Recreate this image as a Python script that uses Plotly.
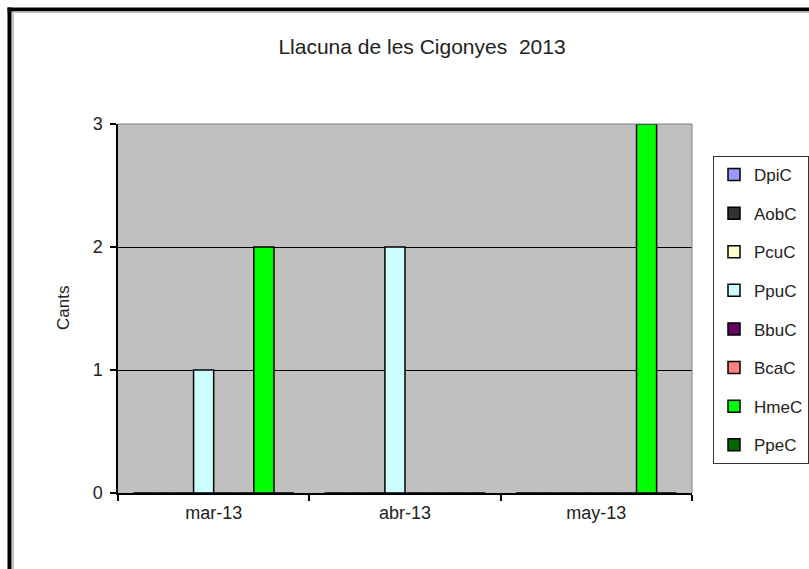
import plotly.graph_objects as go

categories = ["mar-13", "abr-13", "may-13"]
series_names = ["DpiC", "AobC", "PcuC", "PpuC", "BbuC", "BcaC", "HmeC", "PpeC"]
series_values = {
    "DpiC": [0, 0, 0],
    "AobC": [0, 0, 0],
    "PcuC": [0, 0, 0],
    "PpuC": [1, 2, 0],
    "BbuC": [0, 0, 0],
    "BcaC": [0, 0, 0],
    "HmeC": [2, 0, 3],
    "PpeC": [0, 0, 0],
}
series_colors = {
    "DpiC": "#9999FF",
    "AobC": "#333333",
    "PcuC": "#FFFFCC",
    "PpuC": "#CCFFFF",
    "BbuC": "#660066",
    "BcaC": "#FF8080",
    "HmeC": "#00FF00",
    "PpeC": "#006600",
}
y_ticks = [0, 1, 2, 3]
title_text = "Llacuna de les Cigonyes  2013"
y_title = "Cants"

W, H = 809, 569
L, R, T, B = 118, 692, 124, 493


def px(x):
    return (x - L) / (R - L)


def py(y):
    return (B - y) / (B - T)


FONT = "Liberation Sans, Arial, sans-serif"
xpos = list(range(len(categories)))

fig = go.Figure()
for name in series_names:
    fig.add_trace(go.Bar(
        x=xpos, y=series_values[name], name=name,
        marker=dict(color=series_colors[name], line=dict(color="black", width=1.5)),
        legendgroup=name,
    ))

shapes = [
    dict(type="line", xref="paper", yref="paper", x0=0, x1=1, y0=1, y1=1,
         line=dict(color="#808080", width=1), layer="above"),
    dict(type="line", xref="paper", yref="paper", x0=1, x1=1, y0=0, y1=1,
         line=dict(color="#808080", width=1), layer="above"),
    dict(type="line", xref="paper", yref="paper", x0=px(9.5), x1=px(9.5), y0=py(600), y1=py(7.5),
         line=dict(color="black", width=4)),
    dict(type="line", xref="paper", yref="paper", x0=px(7.5), x1=px(830), y0=py(9.5), y1=py(9.5),
         line=dict(color="black", width=4)),
    dict(type="line", xref="paper", yref="paper", x0=px(13), x1=px(13), y0=py(600), y1=py(12),
         line=dict(color="#B0B0B0", width=1.5)),
    dict(type="line", xref="paper", yref="paper", x0=px(13), x1=px(830), y0=py(12), y1=py(12),
         line=dict(color="#B0B0B0", width=1.5)),
]

fig.update_layout(
    width=W, height=H,
    margin=dict(l=L, r=W - R, t=T, b=H - B, pad=0, autoexpand=False),
    paper_bgcolor="white",
    plot_bgcolor="#C0C0C0",
    barmode="group",
    bargap=0.16,
    bargroupgap=0,
    font=dict(family=FONT, size=18, color="black"),
    title=dict(text=title_text, font=dict(family=FONT, size=21, color="#222222"),
               xref="paper", x=px(422), xanchor="center",
               yref="container", y=1 - 47 / H, yanchor="middle"),
    showlegend=True,
    legend=dict(x=px(713), y=py(156), xanchor="left", yanchor="top",
                bgcolor="white", bordercolor="#333333", borderwidth=1,
                font=dict(family=FONT, size=17, color="#222222"),
                tracegroupgap=13.5, traceorder="grouped", itemwidth=30),
    shapes=shapes,
    annotations=[dict(text=y_title, xref="paper", yref="paper", x=px(63), y=py(308),
                      textangle=-90, showarrow=False, xanchor="center", yanchor="middle",
                      font=dict(family=FONT, size=17, color="#222222"))],
)

fig.update_xaxes(
    range=[-0.5, len(categories) - 0.5],
    tickvals=xpos, ticktext=categories,
    ticks="outside", ticklen=0, showgrid=False, zeroline=False,
    showline=True, linecolor="black", linewidth=1.5,
    ticklabelstandoff=3,
    tickfont=dict(family=FONT, size=18, color="#222222"),
    minor=dict(tickvals=[-0.5, 0.5, 1.5, 2.5], ticks="outside", ticklen=6,
               tickcolor="black", tickwidth=1.5, showgrid=False),
)
fig.update_yaxes(
    range=[0, 3], tickvals=y_ticks,
    ticks="outside", ticklen=6, tickcolor="black", tickwidth=1.5,
    showgrid=True, gridcolor="black", gridwidth=1,
    zeroline=False, showline=True, linecolor="black", linewidth=1.5,
    ticklabelstandoff=4,
    tickfont=dict(family=FONT, size=18, color="#222222"),
)

fig.write_html("out.html", config={"displayModeBar": False},
               post_script="document.body.style.margin='0';document.body.style.overflow='hidden';")
